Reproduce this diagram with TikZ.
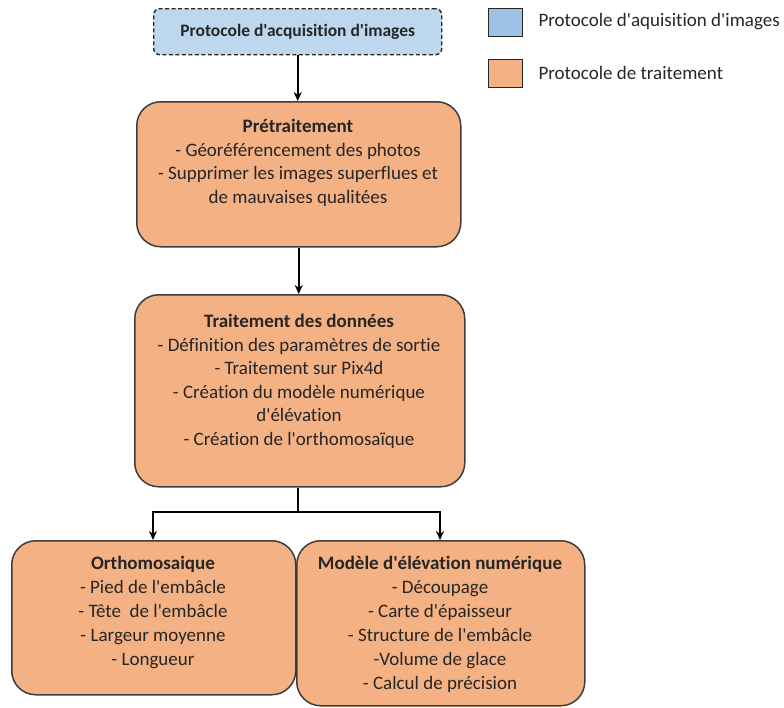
\documentclass[tikz,border=0pt]{standalone}
\usepackage{fontspec}
\setmainfont{Carlito}[Ligatures={TeXOff,NoCommon}]
\usetikzlibrary{arrows.meta}
\definecolor{acqfill}{HTML}{BDD7EE}
\definecolor{acqlegend}{HTML}{9DC3E6}
\definecolor{procfill}{HTML}{F4B183}
\definecolor{ink}{HTML}{262626}
\begin{document}
\begin{tikzpicture}[x=1pt,y=-1pt,
  procbox/.style={draw=ink!90, line width=1.5pt, fill=procfill, rounded corners=24pt,
    inner sep=0pt, anchor=north west},
  acqbox/.style={draw=ink, line width=1.4pt, dashed, dash pattern=on 4pt off 2.5pt,
    fill=acqfill, rounded corners=6pt, inner sep=0pt, anchor=north west},
  boxtext/.style={anchor=north, align=center, text=ink, font=\fontsize{19}{23.5}\selectfont},
  leaftext/.style={boxtext, font=\fontsize{19}{24}\selectfont},
  legendkey/.style={draw=ink, line width=1.4pt, inner sep=0pt, anchor=north west,
    minimum width=34pt, minimum height=28pt},
  legendtext/.style={anchor=west, text=ink, font=\fontsize{19}{22}\selectfont},
  flow/.style={line width=2.4pt, -{Stealth[length=9pt,width=8pt]}},
  link/.style={line width=2.4pt}
]
\useasboundingbox (0,0) rectangle (784,707);

% acquisition protocol (top)
\node[acqbox, minimum width=288pt, minimum height=46pt] (acq) at (153,8) {};
\node[anchor=center, text=ink, font=\bfseries\fontsize{17.5}{20}\selectfont] (acqt) at (acq.center) {Protocole d'acquisition d'images};

% preprocessing
\node[procbox, minimum width=324pt, minimum height=145pt] (pre) at (136,101) {};
\node[boxtext] (pret) at (298,116) {\textbf{Prétraitement}\\- Géoréférencement des photos\\- Supprimer les images superflues et\\de mauvaises qualitées};

% data processing
\node[procbox, minimum width=330pt, minimum height=192pt] (proc) at (134,294) {};
\node[boxtext] (proct) at (299,311) {\textbf{Traitement des données}\\- Définition des paramètres de sortie\\- Traitement sur Pix4d\\- Création du modèle numérique\\d'élévation\\- Création de l'orthomosaïque};

% outputs
\node[procbox, minimum width=284pt, minimum height=154pt] (ortho) at (11,540) {};
\node[leaftext] (orthot) at (153,553) {\textbf{Orthomosaique}\\- Pied de l'embâcle\\- Tête~ de l'embâcle\\- Largeur moyenne\\- Longueur};

\node[procbox, minimum width=288pt, minimum height=165pt] (mne) at (296,540) {};
\node[leaftext] (mnet) at (440,553) {\textbf{Modèle d'élévation numérique}\\- Découpage\\- Carte d'épaisseur\\- Structure de l'embâcle\\-Volume de glace\\- Calcul de précision};

% connectors
\draw[flow] (acq.south) -- (pre.north -| acq.south);
\draw[flow] (pre.south) -- (proc.north -| pre.south);
\coordinate (split) at (298,512);
\coordinate (splitL) at (153,512);
\coordinate (splitR) at (440,512);
\draw[link] (proc.south -| split) -- (split);
\draw[link, line cap=rect] (splitL) -- (splitR);
\draw[flow] (splitL) -- (splitL |- ortho.north);
\draw[flow] (splitR) -- (splitR |- mne.north);

% legend
\node[legendkey, fill=acqlegend] (keyacq) at (488,8) {};
\node[legendtext] (keyacqt) at (535,22) {Protocole d'aquisition d'images};
\node[legendkey, fill=procfill] (keyproc) at (488,59) {};
\node[legendtext] (keyproct) at (535,73) {Protocole de traitement};
\end{tikzpicture}
\end{document}
